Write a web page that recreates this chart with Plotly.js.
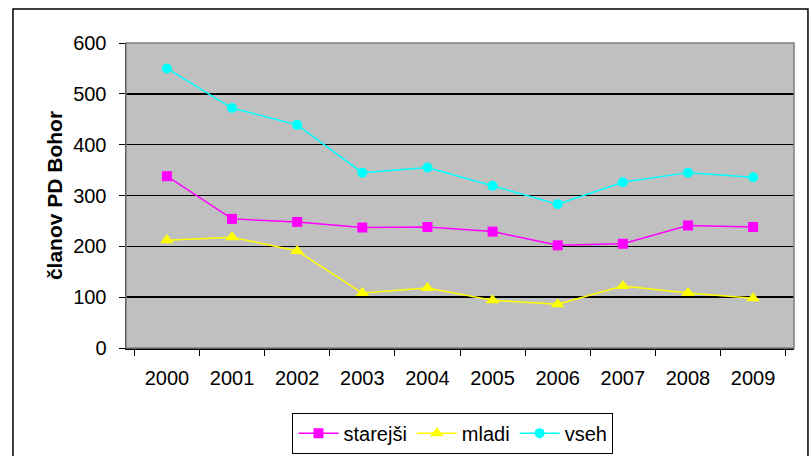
<!DOCTYPE html>
<html>
<head>
<meta charset="utf-8">
<script src="https://cdn.plot.ly/plotly-3.0.1.min.js"></script>
<style>html,body{margin:0;padding:0;background:#fff;}#chart{width:810px;height:456px;}</style>
</head>
<body>
<div id="chart"></div>
<script>
const years = ['2000','2001','2002','2003','2004','2005','2006','2007','2008','2009'];
const starejsi = [338, 254, 248, 237, 238, 229, 202, 205, 241, 238];
const mladi = [212, 218, 191, 108, 118, 94, 86, 122, 108, 98];
const vseh = [550, 472, 439, 345, 355, 319, 283, 326, 345, 336];
const yTicks = [0, 100, 200, 300, 400, 500, 600];

const font = 'Liberation Sans, Arial, sans-serif';

const traces = [
  {x: years, y: starejsi, name: 'starejši', type: 'scatter', mode: 'lines+markers',
   line: {color: '#FF00FF', width: 1.5}, marker: {symbol: 'square', size: 10, color: '#FF00FF'}},
  {x: years, y: mladi, name: 'mladi', type: 'scatter', mode: 'lines+markers',
   line: {color: '#FFFF00', width: 1.5}, marker: {symbol: 'triangle-up', size: 12, color: '#FFFF00'}},
  {x: years, y: vseh, name: 'vseh', type: 'scatter', mode: 'lines+markers',
   line: {color: '#00FFFF', width: 1.5}, marker: {symbol: 'circle', size: 10, color: '#00FFFF'}}
];

const layout = {
  width: 810, height: 456,
  margin: {l: 126, r: 16, t: 43, b: 108, autoexpand: false},
  paper_bgcolor: '#FFFFFF',
  plot_bgcolor: '#C0C0C0',
  font: {family: font, size: 20, color: '#000'},
  showlegend: true,
  legend: {
    orientation: 'h', x: 0.4895, xanchor: 'center', y: -0.212, yanchor: 'top',
    bordercolor: '#000', borderwidth: 1, bgcolor: '#FFFFFF',
    font: {family: font, size: 20, color: '#000'},
    itemwidth: 40, tracegroupgap: 0
  },
  xaxis: {
    type: 'category', tickson: 'boundaries', ticks: 'outside', ticklen: 6, tickcolor: '#000',
    showline: true, linecolor: '#000', linewidth: 1.5, showgrid: false, zeroline: false,
    tickfont: {family: font, size: 20, color: '#000'}, fixedrange: true,
    ticklabelstandoff: 11, automargin: false
  },
  yaxis: {
    range: [0, 600], tickvals: yTicks, ticktext: yTicks.map(String),
    ticks: 'outside', ticklen: 6, tickcolor: '#000',
    showline: true, linecolor: '#000', linewidth: 1.5,
    showgrid: true, gridcolor: '#000', gridwidth: 1.5, zeroline: false,
    tickfont: {family: font, size: 20, color: '#000'},
    ticklabelstandoff: 8, automargin: false,
    title: {text: '<b>članov PD Bohor</b>', font: {family: font, size: 21, color: '#000'}, standoff: 5}
  },
  shapes: [
    {type: 'rect', xref: 'paper', yref: 'paper', x0: 0, x1: 1, y0: 0, y1: 1,
     line: {color: '#808080', width: 1.5}, fillcolor: 'rgba(0,0,0,0)', layer: 'above'},
    {type: 'rect', xref: 'paper', yref: 'paper', x0: -0.1692, x1: 1.0209, y0: -0.37, y1: 1.1115,
     line: {color: '#000', width: 1.5}, fillcolor: 'rgba(0,0,0,0)'}
  ]
};

Plotly.newPlot('chart', traces, layout, {displayModeBar: false, staticPlot: true});
</script>
</body>
</html>
